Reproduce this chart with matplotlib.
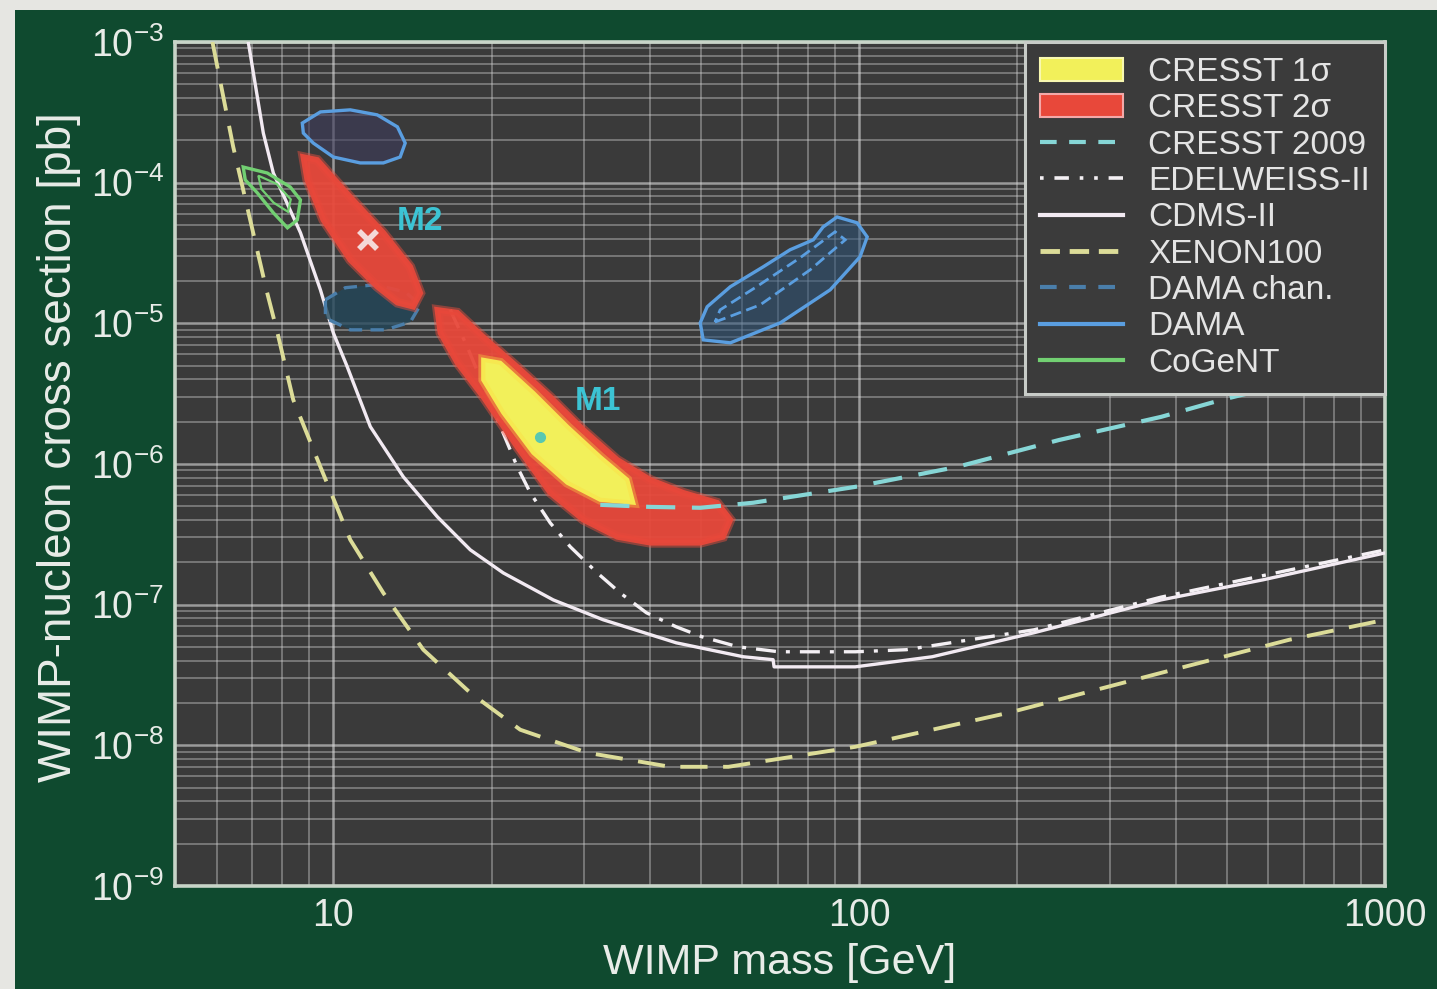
import numpy as np
import matplotlib
matplotlib.use('Agg')
import matplotlib.pyplot as plt
from matplotlib.patches import Patch, Rectangle
from matplotlib.lines import Line2D
from matplotlib.ticker import LogLocator, NullFormatter

plt.rcParams['font.family'] = ['Liberation Sans', 'DejaVu Sans']
plt.rcParams['mathtext.fontset'] = 'custom'
plt.rcParams['mathtext.rm'] = 'Liberation Sans'

# limit curves: WIMP mass [GeV] vs cross section [pb]
xenon_mass = [5.89, 6.45, 7.04, 7.46, 7.83, 8.39, 9.45, 10.77, 12.45, 14.83, 18.22,
              22.67, 30.41, 43.74, 56.4, 98.3, 192, 375, 657, 1000]
xenon_sigma = [1.0e-3, 1.80e-4, 4.40e-5, 1.73e-5, 8.55e-6, 2.86e-6, 9.53e-7, 2.89e-7,
               1.21e-7, 4.78e-8, 2.36e-8, 1.29e-8, 8.85e-9, 7.03e-9, 7.03e-9, 9.75e-9,
               1.70e-8, 3.27e-8, 5.62e-8, 7.80e-8]

cdms_mass = [6.89, 7.36, 7.69, 8.66, 9.45, 10.0, 10.63, 11.76, 13.59, 15.77, 18.22, 21.05,
             26.2, 32.61, 44.9, 60.2, 68.6, 68.9, 98.3, 137.7, 215, 375, 586, 1000]
cdms_sigma = [1.0e-3, 2.25e-4, 1.17e-4, 4.40e-5, 1.73e-5, 8.55e-6, 4.90e-6, 1.84e-6,
              8.09e-7, 4.21e-7, 2.45e-7, 1.68e-7, 1.08e-7, 7.80e-8, 5.35e-8, 4.26e-8,
              4.06e-8, 3.61e-8, 3.61e-8, 4.26e-8, 6.31e-8, 1.08e-7, 1.50e-7, 2.33e-7]

edw_mass = [16.69, 17.98, 22.38, 23.69, 25.85, 28.22, 31.77, 35.13, 39.4, 44.9, 50.3,
            58.9, 70.4, 98.3, 122.9, 215, 375, 1000]
edw_sigma = [1.245e-5, 6.79e-6, 9.53e-7, 6.24e-7, 3.81e-7, 2.58e-7, 1.68e-7, 1.21e-7,
             8.75e-8, 6.95e-8, 5.90e-8, 5.01e-8, 4.62e-8, 4.62e-8, 4.78e-8, 6.62e-8,
             1.13e-7, 2.45e-7]

cresst09_mass = [32.19, 40.08, 49.86, 62.9, 98.3, 153.6, 240, 375, 490, 1000]
cresst09_sigma = [5.12e-7, 4.95e-7, 4.88e-7, 5.30e-7, 6.87e-7, 9.53e-7, 1.48e-6,
                  2.16e-6, 2.86e-6, 5.50e-6]

# CRESST allowed regions
m2_mass = [8.77, 9.32, 10.77, 12.45, 14.01, 14.64, 14.19, 13.24, 12.12, 10.77, 9.57, 8.92]
m2_sigma = [1.52e-4, 1.45e-4, 7.91e-5, 4.40e-5, 2.52e-5, 1.64e-5, 1.31e-5, 1.40e-5,
            1.82e-5, 2.82e-5, 5.43e-5, 1.045e-4]

m1_mass = [15.77, 17.21, 19.28, 22.38, 25.85, 29.88, 34.67, 40.08, 46.3, 53.7, 56.9,
           55.1, 49.86, 40.08, 34.67, 29.88, 25.85, 22.38, 19.28, 17.21, 15.98]
m1_sigma = [1.245e-5, 1.19e-5, 8.0e-6, 4.90e-6, 3.0e-6, 1.75e-6, 1.07e-6, 7.71e-7,
            6.24e-7, 5.30e-7, 4.01e-7, 3.03e-7, 2.75e-7, 2.75e-7, 3.03e-7, 4.01e-7,
            6.24e-7, 1.32e-6, 3.0e-6, 5.24e-6, 8.55e-6]

m1_1s_mass = [19.28, 20.77, 24.01, 27.86, 32.19, 36.23, 37.19, 32.19, 27.86, 24.01, 21.05, 19.28]
m1_1s_sigma = [5.50e-6, 5.24e-6, 3.20e-6, 1.84e-6, 1.12e-6, 7.71e-7, 5.30e-7, 5.56e-7,
               7.35e-7, 1.20e-6, 2.31e-6, 3.96e-6]

best_fit_mass = [11.66, 24.75]
best_fit_sigma = [3.92e-5, 1.56e-6]
region_names = ['M2', 'M1']
region_label_mass = [14.64, 31.9]
region_label_sigma = [5.26e-5, 2.76e-6]

# DAMA, DAMA channeling, CoGeNT
dama_low_mass = [8.73, 9.45, 10.77, 12.12, 13.24, 13.70, 13.40, 12.45, 11.25, 10.0, 9.16, 8.77]
dama_low_sigma = [2.65e-4, 3.18e-4, 3.29e-4, 3.03e-4, 2.49e-4, 1.91e-4, 1.52e-4,
                  1.38e-4, 1.38e-4, 1.52e-4, 1.91e-4, 2.25e-4]

dama_high_mass = [49.86, 50.52, 56.9, 70.8, 88.1, 100.4, 103.6, 99.1, 90.8, 85.4, 81.8,
                  73.9, 65.7, 56.9, 51.4]
dama_high_sigma = [1.007e-5, 7.62e-6, 7.26e-6, 1.007e-5, 1.73e-5, 2.97e-5, 4.11e-5,
                   5.18e-5, 5.70e-5, 4.84e-5, 3.92e-5, 3.33e-5, 2.52e-5, 1.82e-5, 1.31e-5]
dama_inner_mass = [53.2, 64.8, 80.7, 94.1, 90.0, 77.2, 63.4, 54.4]
dama_inner_sigma = [1.02e-5, 1.35e-5, 2.40e-5, 3.92e-5, 4.47e-5, 2.92e-5, 1.79e-5, 1.245e-5]

dama_chan_mass = [9.66, 10.54, 12.02, 13.70, 14.64, 14.01, 12.56, 10.77, 9.66]
dama_chan_sigma = [1.47e-5, 1.79e-5, 1.88e-5, 1.67e-5, 1.35e-5, 1.02e-5, 8.98e-6,
                   8.98e-6, 1.09e-5]

cogent_mass = [6.74, 7.49, 8.28, 8.66, 8.54, 8.18, 7.69, 7.17, 6.80]
cogent_sigma = [1.29e-4, 1.17e-4, 9.31e-5, 7.53e-5, 5.43e-5, 4.77e-5, 6.10e-5,
                8.45e-5, 1.045e-4]
cogent_in_mass = [7.2, 7.8, 8.3, 8.2, 7.7, 7.3]
cogent_in_sigma = [1.12e-4, 9.8e-5, 7.6e-5, 6.2e-5, 7.2e-5, 9.0e-5]

y_ticks = [1e-9, 1e-8, 1e-7, 1e-6, 1e-5, 1e-4, 1e-3]
y_labels = [r'$\mathregular{10^{-%d}}$' % k for k in range(9, 2, -1)]
x_ticks = [10, 100, 1000]
x_labels = ['10', '100', '1000']

green = '#0f4a2f'
txt = '#e8ece8'
c_xenon = '#dcdc98'
c_cdms = '#f2eaf2'
c_cresst09 = '#86d6d6'
c_red = '#e8483a'
c_yellow = '#f2f05a'
c_dama = '#5a9ee0'
c_chan = '#4a7eaa'
c_cogent = '#72d072'

fig = plt.figure(figsize=(14.37, 9.89), dpi=100)
fig.patch.set_facecolor('#e6e6e2')
bg = Rectangle((15 / 1437, 0), 1, 1 - 10 / 989, transform=fig.transFigure,
               facecolor=green, edgecolor='none', zorder=-5)
fig.patches.append(bg)

ax = fig.add_axes([0.1218, 0.1042, 0.8420, 0.8534])
ax.set_zorder(1)
ax.set_facecolor('#3a3a3a')
ax.set_xscale('log')
ax.set_yscale('log')
ax.set_xlim(5, 1000)
ax.set_ylim(1e-9, 1e-3)

ax.xaxis.set_minor_locator(LogLocator(base=10, subs=np.arange(2, 10), numticks=100))
ax.yaxis.set_minor_locator(LogLocator(base=10, subs=np.arange(2, 10), numticks=100))
ax.xaxis.set_minor_formatter(NullFormatter())
ax.yaxis.set_minor_formatter(NullFormatter())
ax.grid(True, which='major', color='#dcdcdc', lw=1.8, alpha=0.6)
ax.grid(True, which='minor', color='#d4d4d4', lw=1.3, alpha=0.42)
ax.set_axisbelow(True)

# exclusion limits
ax.plot(xenon_mass, xenon_sigma, color=c_xenon, lw=2.8, ls=(0, (7, 4)), zorder=3)
ax.plot(cdms_mass, cdms_sigma, color=c_cdms, lw=2.4, zorder=3)

# DAMA / CoGeNT contours
ax.fill(dama_low_mass, dama_low_sigma, facecolor='#3c3a5a', alpha=0.6, edgecolor='none', zorder=3)
ax.fill(dama_low_mass, dama_low_sigma, facecolor='none', edgecolor=c_dama, lw=2.4, zorder=4)
ax.fill(dama_high_mass, dama_high_sigma, facecolor='#2c5278', alpha=0.55, edgecolor='none', zorder=3)
ax.fill(dama_high_mass, dama_high_sigma, facecolor='none', edgecolor=c_dama, lw=2.4, zorder=4)
ax.fill(dama_inner_mass, dama_inner_sigma, facecolor='none', edgecolor=c_dama, lw=2.0,
        ls=(0, (4, 2)), zorder=4)
ax.fill(dama_chan_mass, dama_chan_sigma, facecolor='#23475a', alpha=0.8, edgecolor='none', zorder=3)
ax.fill(dama_chan_mass, dama_chan_sigma, facecolor='none', edgecolor=c_chan, lw=2.4,
        ls=(0, (4, 2.5)), zorder=4)
ax.fill(cogent_mass, cogent_sigma, facecolor='none', edgecolor=c_cogent, lw=2.4, zorder=4)
ax.fill(cogent_in_mass, cogent_in_sigma, facecolor='none', edgecolor=c_cogent, lw=1.6, zorder=4)

ax.plot(edw_mass, edw_sigma, color='#f4f0f4', lw=2.4, ls=(0, (6, 3, 1.2, 3)), zorder=4.5)

# CRESST regions with a soft halo
for xs, ys in [(m2_mass, m2_sigma), (m1_mass, m1_sigma)]:
    ax.fill(xs, ys, facecolor='none', edgecolor='#f05040', lw=7, alpha=0.45, zorder=5)
    ax.fill(xs, ys, facecolor=c_red, edgecolor=c_red, lw=4, alpha=0.95, zorder=5)
ax.fill(m1_1s_mass, m1_1s_sigma, facecolor='none', edgecolor='#f4b040', lw=7, alpha=0.5, zorder=6)
ax.fill(m1_1s_mass, m1_1s_sigma, facecolor=c_yellow, edgecolor='#f6e850', lw=3, zorder=6)
ax.plot(best_fit_mass[:1], best_fit_sigma[:1], 'x', color='#f4d8d8', ms=13, mew=4, zorder=7)
ax.plot(best_fit_mass[1:], best_fit_sigma[1:], 'o', color='#58c8b0', ms=7, zorder=7)
for name, xm, ys in zip(region_names, region_label_mass, region_label_sigma):
    ax.text(xm, ys, name, color='#3cc4d4', fontsize=24, fontweight='bold',
            ha='center', va='center', zorder=7)

ax.plot(cresst09_mass, cresst09_sigma, color=c_cresst09, lw=3.0, ls=(0, (7, 4)), zorder=7)

ax.set_xticks(x_ticks, x_labels)
ax.set_yticks(y_ticks, y_labels)
ax.tick_params(which='both', length=0)
ax.tick_params(axis='x', labelsize=27, colors=txt, pad=9)
ax.tick_params(axis='y', labelsize=27, colors=txt, pad=8)
for s in ax.spines.values():
    s.set_color('#c8d4c8')
    s.set_linewidth(2.6)

ax.set_xlabel('WIMP mass [GeV]', fontsize=31, color=txt)
ax.set_ylabel('WIMP-nucleon cross section [pb]', fontsize=33, color=txt)
ax.xaxis.set_label_coords(0.5, -0.068)
ax.yaxis.set_label_coords(-0.078, 0.52)

handles = [
    Patch(facecolor=c_yellow, edgecolor='#f8f8b0', lw=1.5, label='CRESST 1σ'),
    Patch(facecolor=c_red, edgecolor='#f4a8a8', lw=1.5, label='CRESST 2σ'),
    Line2D([], [], color=c_cresst09, lw=3, ls=(0, (4, 3)), label='CRESST 2009'),
    Line2D([], [], color='#f4f0f4', lw=2.6, ls=(0, (1, 3, 4, 3, 1, 3)), label='EDELWEISS-II'),
    Line2D([], [], color=c_cdms, lw=3, label='CDMS-II'),
    Line2D([], [], color=c_xenon, lw=3.5, ls=(0, (4, 2)), label='XENON100'),
    Line2D([], [], color=c_chan, lw=3, ls=(0, (4, 3)), label='DAMA chan.'),
    Line2D([], [], color=c_dama, lw=3, label='DAMA'),
    Line2D([], [], color=c_cogent, lw=3, label='CoGeNT'),
]
leg = ax.legend(handles=handles, loc='upper right', borderaxespad=0, fontsize=24,
                labelcolor='#e4e4e4', frameon=True, fancybox=False, framealpha=1,
                facecolor='#3b3b3b', edgecolor='#c8ccc8', handlelength=2.5,
                handletextpad=0.75, labelspacing=0.16, borderpad=0.45)
leg.get_frame().set_linewidth(2.2)
leg.set_zorder(10)

fig.savefig('out.png', dpi=100, facecolor=fig.get_facecolor())
